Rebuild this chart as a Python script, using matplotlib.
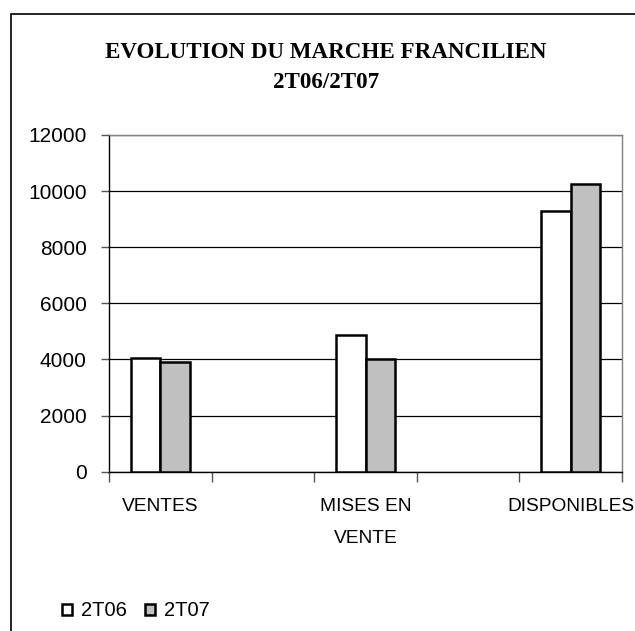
import matplotlib
matplotlib.use("Agg")
import matplotlib.pyplot as plt
from matplotlib.patches import Rectangle
from matplotlib.ticker import FixedLocator, MultipleLocator
import numpy as np

categories = ["VENTES", "MISES EN\nVENTE", "DISPONIBLES"]
series_names = ["2T06", "2T07"]
values_2t06 = [4070, 4870, 9300]
values_2t07 = [3920, 4000, 10250]
title_line1 = "EVOLUTION DU MARCHE FRANCILIEN"
title_line2 = "2T06/2T07"

SANS = ["Liberation Sans", "DejaVu Sans"]
SERIF = ["Liberation Serif", "DejaVu Serif"]

W, H = 635, 631
fig = plt.figure(figsize=(W / 100, H / 100), dpi=100)

# outer chart border (right and bottom edges fall outside the picture)
fig.patches.append(Rectangle((11 / W, -0.1), 1.2, 1 - 14 / H + 0.1,
                             transform=fig.transFigure, fill=False,
                             edgecolor="black", linewidth=1.2))

left, right, top, bottom = 109, 622, 135, 471.7
ax = fig.add_axes([left / W, 1 - bottom / H, (right - left) / W, (bottom - top) / H])

pos = np.arange(len(categories)) * 2
bw = 0.287
ax.bar(pos - bw / 2, values_2t06, bw, color="white", edgecolor="black",
       linewidth=1.8, label=series_names[0], zorder=3)
ax.bar(pos + bw / 2, values_2t07, bw, color="#C0C0C0", edgecolor="black",
       linewidth=1.8, label=series_names[1], zorder=3)

ax.set_xlim(-0.5, pos[-1] + 0.5)
ax.set_ylim(0, 12000)
ax.yaxis.set_major_locator(MultipleLocator(2000))
ax.yaxis.grid(True, color="black", linewidth=0.9, zorder=0)
ax.set_axisbelow(True)

# category boundary tick marks and category labels
ax.xaxis.set_major_locator(FixedLocator(np.arange(-0.5, pos[-1] + 1, 1.0)))
ax.xaxis.set_major_formatter(plt.NullFormatter())
ax.xaxis.set_minor_locator(FixedLocator(pos))
ax.set_xticklabels(categories, minor=True)
ax.tick_params(axis="x", which="major", direction="out", length=7, width=1, color="#555555")
ax.tick_params(axis="x", which="minor", length=0, pad=19)
for lab in ax.get_xticklabels(minor=True):
    lab.set_fontfamily(SANS)
    lab.set_fontsize(13.8)
    lab.set_linespacing(2.15)
    lab.set_verticalalignment("top")

ax.tick_params(axis="y", direction="out", length=6, width=1, pad=10, color="#555555")
for lab in ax.get_yticklabels():
    lab.set_fontfamily(SANS)
    lab.set_fontsize(15)

for s in ["left", "bottom"]:
    ax.spines[s].set_color("black")
    ax.spines[s].set_linewidth(1.0)
for s in ["right", "top"]:
    ax.spines[s].set_color("#808080")
    ax.spines[s].set_linewidth(1.0)

fig.text(326 / W, 1 - 58 / H, title_line1, ha="center", va="baseline",
         fontfamily=SERIF, fontweight="bold", fontsize=16.6)
fig.text(326 / W, 1 - 88 / H, title_line2, ha="center", va="baseline",
         fontfamily=SERIF, fontweight="bold", fontsize=16.6)

fig.legend(loc="center left", bbox_to_anchor=(54 / W, 1 - 611 / H), ncol=2,
           frameon=False, prop={"family": SANS, "size": 14.5},
           handlelength=0.5, handleheight=0.5, handletextpad=0.45,
           columnspacing=0.9, borderaxespad=0)

fig.savefig("out.png", dpi=100)
